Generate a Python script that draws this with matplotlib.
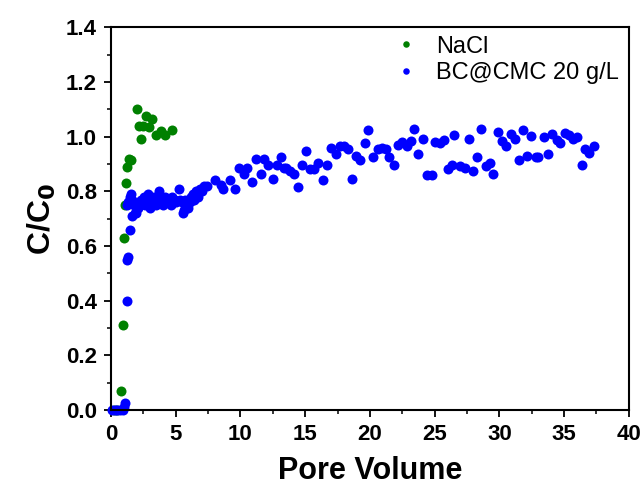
import numpy as np
import matplotlib
matplotlib.use("Agg")
import matplotlib.pyplot as plt
from matplotlib.ticker import MultipleLocator

plt.rcParams['font.family'] = ['Liberation Sans', 'DejaVu Sans']

# NaCl tracer breakthrough
nacl_pv = [0.2, 0.5, 0.77, 0.9, 1.0, 1.05, 1.16, 1.24, 1.43, 1.54,
           2.0, 2.15, 2.3, 2.5, 2.7, 2.9, 3.2, 3.5, 3.85, 4.2, 4.7]
nacl_c = [0.0, 0.0, 0.07, 0.31, 0.63, 0.75, 0.83, 0.89, 0.92, 0.915,
          1.10, 1.04, 0.99, 1.04, 1.075, 1.035, 1.065, 1.005, 1.02, 1.005, 1.025]

# BC@CMC 20 g/L breakthrough
bc_pv = [0.1, 0.3, 0.5, 0.7, 0.9, 1.0, 1.1, 1.2, 1.25, 1.35, 1.45, 1.6,
         1.2, 1.3, 1.45, 1.55, 1.62, 1.75, 1.85, 1.95, 2.05, 2.15, 2.25, 2.35,
         2.45, 2.55, 2.65, 2.75, 2.86, 2.95, 3.05, 3.15, 3.25, 3.35, 3.45, 3.55,
         3.7, 3.8, 3.9, 4.0, 4.1, 4.2, 4.3, 4.45, 4.55, 4.65, 4.75, 4.85,
         4.95, 5.05, 5.25, 5.3, 5.45, 5.56, 5.65, 5.75, 5.85, 5.95, 6.1, 6.2,
         6.3, 6.45, 6.56, 6.7, 6.85, 7.0, 7.15,
         7.41, 8.03, 8.49, 8.65, 9.19, 9.58, 9.88, 10.27, 10.50, 10.89, 11.20, 11.58,
         11.81, 12.12, 12.51, 12.82, 13.13, 13.36, 13.51, 13.82, 14.13, 14.44, 14.75, 15.06,
         15.37, 15.68, 15.98, 16.37, 16.68, 16.99, 17.37, 17.68, 17.99, 18.30, 18.61, 18.92,
         19.23, 19.61, 19.85, 20.23, 20.62, 20.93, 21.24, 21.47, 21.85, 22.16, 22.47, 22.86,
         23.17, 23.40, 23.71, 24.09, 24.40, 24.79, 25.02, 25.41, 25.71, 26.02, 26.33, 26.49,
         26.95, 27.34, 27.64, 27.95, 28.26, 28.57, 28.96, 29.27, 29.50, 29.88, 30.19, 30.50,
         30.89, 31.20, 31.51, 31.81, 32.12, 32.43, 32.82, 32.97, 33.44, 33.74, 34.05, 34.44,
         34.67, 35.06, 35.37, 35.68, 35.98, 36.37, 36.60, 36.91, 37.30]
bc_c = [0.0, 0.0, 0.0, 0.0, 0.0, 0.01, 0.025, 0.40, 0.55, 0.56, 0.66, 0.71,
        0.75, 0.76, 0.78, 0.79, 0.77, 0.75, 0.72, 0.72, 0.74, 0.76, 0.75, 0.77,
        0.76, 0.78, 0.75, 0.77, 0.79, 0.76, 0.74, 0.77, 0.76, 0.78, 0.75, 0.77,
        0.80, 0.76, 0.77, 0.75, 0.76, 0.78, 0.77, 0.76, 0.77, 0.75, 0.78, 0.76,
        0.77, 0.76, 0.81, 0.77, 0.76, 0.72, 0.73, 0.77, 0.75, 0.74, 0.76, 0.78,
        0.79, 0.77, 0.80, 0.78, 0.81, 0.80, 0.82,
        0.818, 0.84, 0.825, 0.807, 0.84, 0.807, 0.884, 0.862, 0.884, 0.833, 0.92, 0.865,
        0.92, 0.895, 0.844, 0.898, 0.927, 0.884, 0.884, 0.873, 0.862, 0.815, 0.898, 0.949,
        0.88, 0.88, 0.902, 0.84, 0.898, 0.96, 0.938, 0.964, 0.967, 0.953, 0.844, 0.931,
        0.916, 0.975, 1.025, 0.924, 0.953, 0.96, 0.953, 0.924, 0.895, 0.971, 0.982, 0.967,
        0.985, 1.029, 0.938, 0.993, 0.858, 0.858, 0.982, 0.978, 0.989, 0.88, 0.898, 1.007,
        0.891, 0.884, 0.993, 0.873, 0.924, 1.029, 0.891, 0.902, 0.865, 1.018, 0.985, 0.967,
        1.011, 0.993, 0.913, 1.025, 0.931, 1.004, 0.927, 0.927, 1.0, 0.938, 1.011, 0.989,
        0.978, 1.015, 1.007, 0.993, 1.0, 0.895, 0.956, 0.942, 0.967]

fig = plt.figure(figsize=(6.43, 4.86), dpi=100)
ax = fig.add_axes([0.1726, 0.156, 0.8054, 0.788])

ax.plot(nacl_pv, nacl_c, 'o', color='#008000', ms=7.2, mec='none', label='NaCl', clip_on=False)
ax.plot(bc_pv, bc_c, 'o', color='#0000ff', ms=7.2, mec='none', label='BC@CMC 20 g/L', clip_on=False)

ax.set_xlim(0, 40)
ax.set_ylim(0, 1.4)
ax.xaxis.set_major_locator(MultipleLocator(5))
ax.xaxis.set_minor_locator(MultipleLocator(2.5))
ax.yaxis.set_major_locator(MultipleLocator(0.2))
ax.yaxis.set_minor_locator(MultipleLocator(0.1))
ax.yaxis.set_major_formatter(matplotlib.ticker.FormatStrFormatter('%.1f'))

ax.tick_params(which='major', direction='out', length=5, width=1.3, labelsize=16, pad=5)
ax.tick_params(which='minor', direction='out', length=3, width=1.1)
for lab in ax.get_xticklabels() + ax.get_yticklabels():
    lab.set_fontweight('bold')
for sp in ax.spines.values():
    sp.set_linewidth(1.5)

ax.set_xlabel('Pore Volume', fontsize=22, fontweight='bold', labelpad=8)
ax.set_ylabel('C/C$_\\mathbf{0}$', fontsize=23, fontweight='bold', labelpad=6)

leg = ax.legend(loc='upper left', bbox_to_anchor=(0.505, 1.015), frameon=False,
                fontsize=17, markerscale=0.65, handletextpad=0.5, labelspacing=0.2,
                borderaxespad=0.2, handlelength=1.6)

fig.savefig('out.png', dpi=100)
